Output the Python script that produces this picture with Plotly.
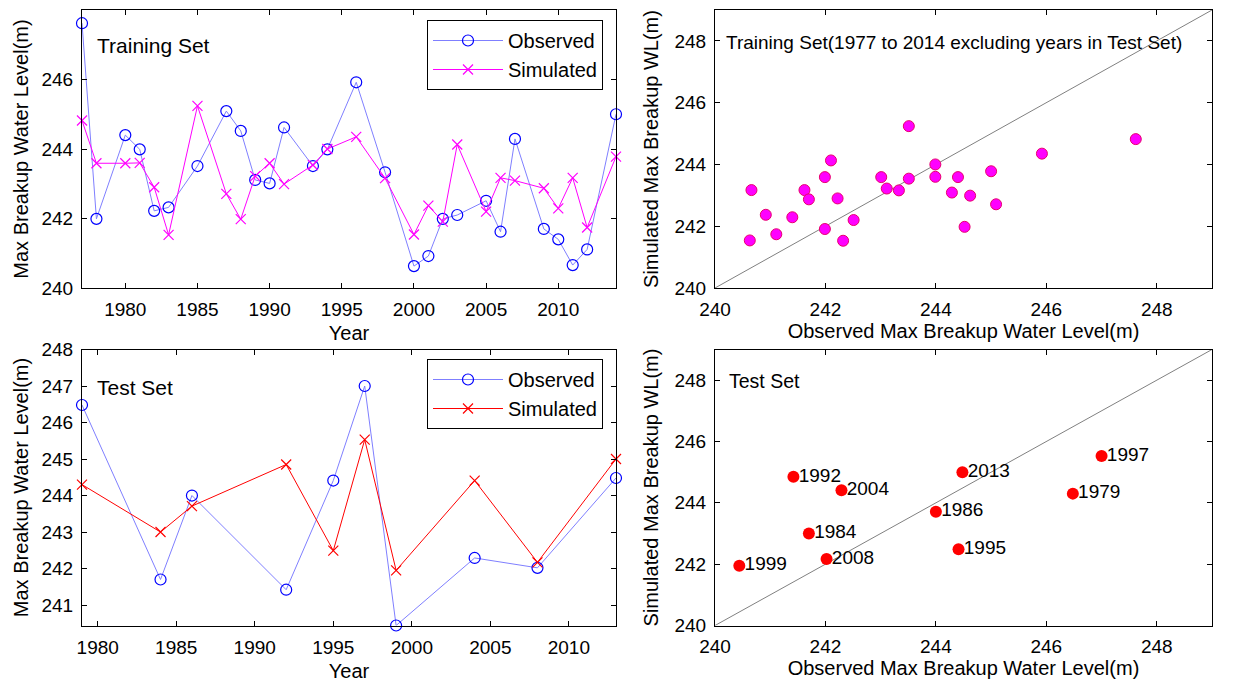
import plotly.graph_objects as go

# ---------------- data ----------------
train_years = [1977, 1978, 1980, 1981, 1982, 1983, 1985, 1987, 1988, 1989, 1990, 1991,
               1993, 1994, 1996, 1998, 2000, 2001, 2002, 2003, 2005, 2006, 2007, 2009,
               2010, 2011, 2012, 2014]
train_obs = [247.62, 241.99, 244.40, 243.99, 242.22, 242.32, 243.51, 245.09, 244.52, 243.11,
             243.01, 244.62, 243.51, 243.99, 245.92, 243.33, 240.63, 240.92, 241.99, 242.10,
             242.51, 241.62, 244.29, 241.70, 241.40, 240.66, 241.11, 245.00]
train_sim = [244.82, 243.59, 243.59, 243.60, 242.90, 241.53, 245.24, 242.71, 241.98, 243.22,
             243.59, 242.99, 243.54, 244.00, 244.35, 243.16, 241.54, 242.37, 241.91, 244.13,
             242.20, 243.17, 243.09, 242.87, 242.29, 243.17, 241.74, 243.78]

test_years = [1979, 1984, 1986, 1992, 1995, 1997, 1999, 2004, 2008, 2013]
test_obs = [246.48, 241.70, 244.00, 241.42, 244.41, 247.00, 240.44, 242.29, 242.02, 244.48]
test_sim = [244.30, 243.00, 243.71, 244.85, 242.49, 245.53, 241.95, 244.41, 242.17, 245.00]

one_to_one = [240, 249]

ts_ticks = [1980, 1985, 1990, 1995, 2000, 2005, 2010]
ts_yticks_top = [240, 242, 244, 246, 248]
ts_yticks_bottom = [241, 242, 243, 244, 245, 246, 247, 248]
sc_ticks = [240, 242, 244, 246, 248]

FONT = "Liberation Sans, Arial, Helvetica, sans-serif"
BLUE = "#0000ff"
BLUE_LINE = "#7f7fff"
MAG = "#ff00ff"
RED = "#ff0000"

fig = go.Figure()

# ---- top-left: training time series ----
fig.add_trace(go.Scatter(
    x=train_years, y=train_obs, mode="lines+markers", name="Observed",
    line=dict(color=BLUE_LINE, width=1),
    marker=dict(symbol="circle-open", size=11, color=BLUE, line=dict(width=1.2, color=BLUE)),
    xaxis="x", yaxis="y", legend="legend", cliponaxis=False))
fig.add_trace(go.Scatter(
    x=train_years, y=train_sim, mode="lines+markers", name="Simulated",
    line=dict(color=MAG, width=1),
    marker=dict(symbol="x-thin-open", size=10, color=MAG, line=dict(width=1.2, color=MAG)),
    xaxis="x", yaxis="y", legend="legend", cliponaxis=False))

# ---- top-right: training scatter ----
fig.add_trace(go.Scatter(
    x=one_to_one, y=one_to_one, mode="lines", showlegend=False,
    line=dict(color="#808080", width=1), xaxis="x2", yaxis="y2"))
fig.add_trace(go.Scatter(
    x=train_obs, y=train_sim, mode="markers", showlegend=False,
    marker=dict(symbol="circle", size=11, color=MAG, line=dict(width=1, color="#e8006e")),
    xaxis="x2", yaxis="y2"))

# ---- bottom-left: test time series ----
fig.add_trace(go.Scatter(
    x=test_years, y=test_obs, mode="lines+markers", name="Observed",
    line=dict(color=BLUE_LINE, width=1),
    marker=dict(symbol="circle-open", size=11, color=BLUE, line=dict(width=1.2, color=BLUE)),
    xaxis="x3", yaxis="y3", legend="legend2", cliponaxis=False))
fig.add_trace(go.Scatter(
    x=test_years, y=test_sim, mode="lines+markers", name="Simulated",
    line=dict(color=RED, width=1),
    marker=dict(symbol="x-thin-open", size=10, color=RED, line=dict(width=1.2, color=RED)),
    xaxis="x3", yaxis="y3", legend="legend2", cliponaxis=False))

# ---- bottom-right: test scatter ----
fig.add_trace(go.Scatter(
    x=one_to_one, y=one_to_one, mode="lines", showlegend=False,
    line=dict(color="#808080", width=1), xaxis="x4", yaxis="y4"))
fig.add_trace(go.Scatter(
    x=test_obs, y=test_sim, mode="markers", showlegend=False,
    marker=dict(symbol="circle", size=12, color=RED, line=dict(width=0)),
    xaxis="x4", yaxis="y4", cliponaxis=False))
fig.add_trace(go.Scatter(
    x=test_obs, y=test_sim, mode="text", showlegend=False,
    text=["\u00a0" + str(y) for y in test_years], textposition="middle right",
    textfont=dict(family=FONT, size=19, color="black"),
    xaxis="x4", yaxis="y4", cliponaxis=False))

W, H = 1255, 687
dx_left = [82 / W, 616 / W]
dx_right = [715 / W, 1212 / W]
dy_top = [1 - 288 / H, 1 - 10 / H]
dy_bot = [1 - 625.5 / H, 1 - 349.5 / H]


def axis_common(**kw):
    d = dict(showline=True, linecolor="black", linewidth=1, mirror="allticks",
             ticks="inside", ticklen=5, tickwidth=1, tickcolor="black",
             showgrid=False, zeroline=False, automargin=False,
             tickfont=dict(family=FONT, size=19, color="black"),
             title_font=dict(family=FONT, size=20, color="black"))
    d.update(kw)
    return d


fig.update_layout(
    width=W, height=H,
    margin=dict(l=0, r=0, t=0, b=0),
    paper_bgcolor="white", plot_bgcolor="white",
    font=dict(family=FONT, color="black"),
    xaxis=axis_common(domain=dx_left, range=[1977, 2014], tickvals=ts_ticks,
                      ticklabelstandoff=4,
                      title=dict(text="Year", standoff=7), anchor="y"),
    yaxis=axis_common(domain=dy_top, range=[240, 248], tickvals=ts_yticks_top,
                      ticklabelstandoff=4,
                      title=dict(text="Max Breakup Water Level(m)", standoff=7), anchor="x"),
    xaxis2=axis_common(domain=dx_right, range=[240, 249], tickvals=sc_ticks,
                       ticklabelstandoff=4,
                       title=dict(text="Observed Max Breakup Water Level(m)", standoff=5), anchor="y2"),
    yaxis2=axis_common(domain=dy_top, range=[240, 249], tickvals=sc_ticks,
                       ticklabelstandoff=4,
                       title=dict(text="Simulated Max Breakup WL(m)", standoff=10), anchor="x2"),
    xaxis3=axis_common(domain=dx_left, range=[1979, 2013], tickvals=ts_ticks,
                       ticklabelstandoff=5,
                       title=dict(text="Year", standoff=6), anchor="y3"),
    yaxis3=axis_common(domain=dy_bot, range=[240.44, 248], tickvals=ts_yticks_bottom,
                       ticklabelstandoff=4,
                       title=dict(text="Max Breakup Water Level(m)", standoff=7), anchor="x3"),
    xaxis4=axis_common(domain=dx_right, range=[240, 249], tickvals=sc_ticks,
                       ticklabelstandoff=4,
                       title=dict(text="Observed Max Breakup Water Level(m)", standoff=4), anchor="y4"),
    yaxis4=axis_common(domain=dy_bot, range=[240, 249], tickvals=sc_ticks,
                       ticklabelstandoff=4,
                       title=dict(text="Simulated Max Breakup WL(m)", standoff=10), anchor="x4"),
    legend=dict(x=427 / W, y=1 - 20 / H, xanchor="left", yanchor="top",
                bgcolor="white", bordercolor="black", borderwidth=1,
                font=dict(family=FONT, size=20, color="black"), itemwidth=70,
                tracegroupgap=0),
    legend2=dict(x=427 / W, y=1 - 359 / H, xanchor="left", yanchor="top",
                 bgcolor="white", bordercolor="black", borderwidth=1,
                 font=dict(family=FONT, size=20, color="black"), itemwidth=70,
                 tracegroupgap=0),
    annotations=[
        dict(text="Training Set", xref="x domain", yref="y domain", x=0.024, y=0.874,
             xanchor="left", yanchor="middle", showarrow=False,
             font=dict(family=FONT, size=21, color="black")),
        dict(text="Training Set(1977 to 2014 excluding years in Test Set)", xref="x2 domain",
             yref="y2 domain", x=0.018, y=0.882, xanchor="left", yanchor="middle",
             showarrow=False, font=dict(family=FONT, size=19, color="black")),
        dict(text="Test Set", xref="x3 domain", yref="y3 domain", x=0.025, y=0.863,
             xanchor="left", yanchor="middle", showarrow=False,
             font=dict(family=FONT, size=21, color="black")),
        dict(text="Test Set", xref="x4 domain", yref="y4 domain", x=0.025, y=0.885,
             xanchor="left", yanchor="middle", showarrow=False,
             font=dict(family=FONT, size=19.5, color="black")),
    ],
)

fig.write_html("out.html", config={"displayModeBar": False},
               post_script="document.body.style.margin='0';document.body.style.overflow='hidden';")
